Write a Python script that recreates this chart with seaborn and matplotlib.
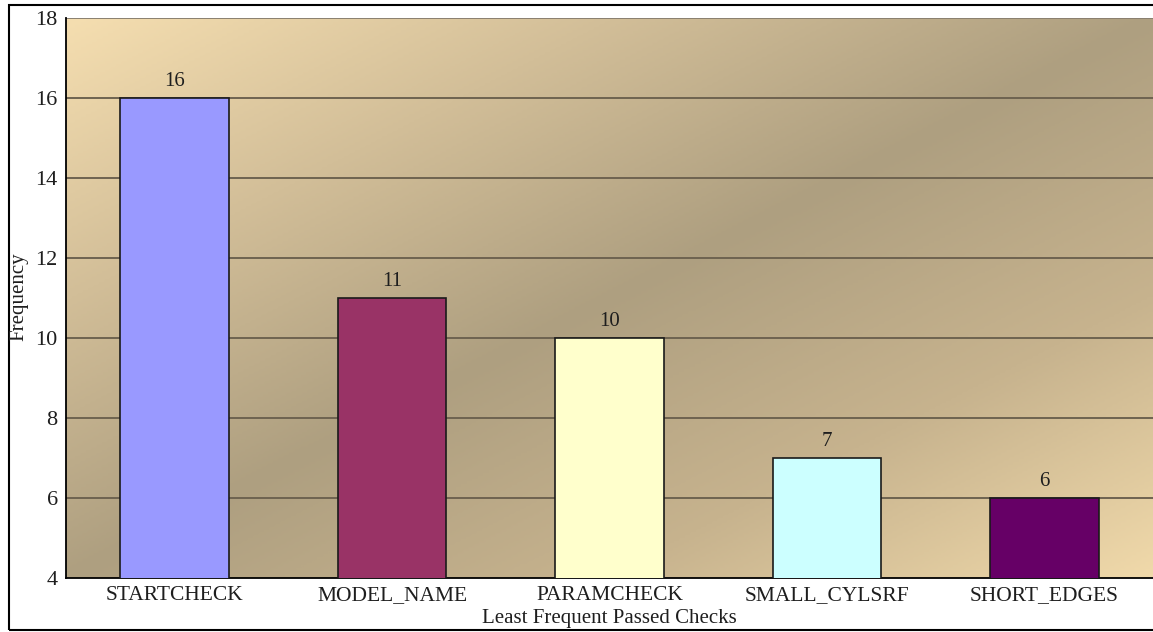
import numpy as np
import pandas as pd
import seaborn as sns
import matplotlib.pyplot as plt
from matplotlib.colors import LinearSegmentedColormap
from matplotlib.patches import Rectangle

checks = ['STARTCHECK', 'MODEL_NAME', 'PARAMCHECK', 'SMALL_CYLSRF', 'SHORT_EDGES']
frequency = [16, 11, 10, 7, 6]
bar_colors = ['#9999FF', '#993366', '#FFFFCC', '#CCFFFF', '#660066']

df = pd.DataFrame({'check': checks, 'frequency': frequency})

sns.set_style('white')
plt.rcParams['font.family'] = ['Liberation Serif', 'DejaVu Serif']

fig = plt.figure(figsize=(11.53, 6.32), dpi=100)
ax = fig.add_axes([66 / 1153, 54 / 632, 1087 / 1153, 560 / 632])

# diagonal gradient background: light top-left / bottom-right, darker band through the middle
nx, ny = 400, 200
u = np.linspace(0, 1, nx)[None, :]
v = np.linspace(1, 0, ny)[:, None]
t = np.clip(u - v, -1, 1)
cmap = LinearSegmentedColormap.from_list(
    'bg', [(0.0, '#f5deb0'), (0.25, '#d2be98'), (0.5, '#ae9f80'),
           (0.75, '#c7b38e'), (1.0, '#f0d9aa')])
ax.imshow((t + 1) / 2, cmap=cmap, vmin=0, vmax=1, aspect='auto',
          extent=[-0.5, 4.5, 4, 18], zorder=0, interpolation='bilinear')

sns.barplot(data=df, x='check', y='frequency', hue='check', palette=bar_colors,
            saturation=1, legend=False, width=0.5, edgecolor='#1a1a1a',
            linewidth=1.2, ax=ax, zorder=3)

for i, val in enumerate(frequency):
    ax.text(i, val + 0.18, str(val), ha='center', va='bottom', fontsize=15, color='#1e1e1e', zorder=4)

ax.set_xlim(-0.5, 4.5)
ax.set_ylim(4, 18)
ax.set_yticks(range(4, 19, 2))
for y in range(6, 18, 2):
    ax.axhline(y, color='#6e6350', lw=1.4, zorder=1)
ax.axhline(18, color='#8a8070', lw=1.4, zorder=1)

ax.tick_params(axis='y', labelsize=16, length=4, width=1, direction='out', color='black',
               pad=2, labelcolor='#1e1e1e')
ax.tick_params(axis='x', labelsize=15.5, length=3, width=1, direction='inout', color='black',
               pad=4, labelcolor='#1e1e1e')

ax.set_ylabel('')
ax.set_xlabel('Least Frequent Passed Checks', fontsize=15, labelpad=3, color='#1e1e1e')
fig.text(19 / 1153, 1 - 297 / 632, 'Frequency', rotation=90, ha='center', va='center',
         fontsize=15, color='#1e1e1e')

for side in ['top', 'right']:
    ax.spines[side].set_visible(False)
ax.spines['left'].set_color('black')
ax.spines['bottom'].set_color('black')
ax.spines['left'].set_linewidth(1.3)
ax.spines['bottom'].set_linewidth(1.3)

fig.patches.append(Rectangle((9 / 1153, 2 / 632), 1.1, 625 / 632, transform=fig.transFigure,
                             fill=False, edgecolor='black', lw=1.5))

fig.savefig('out.png', dpi=100)
